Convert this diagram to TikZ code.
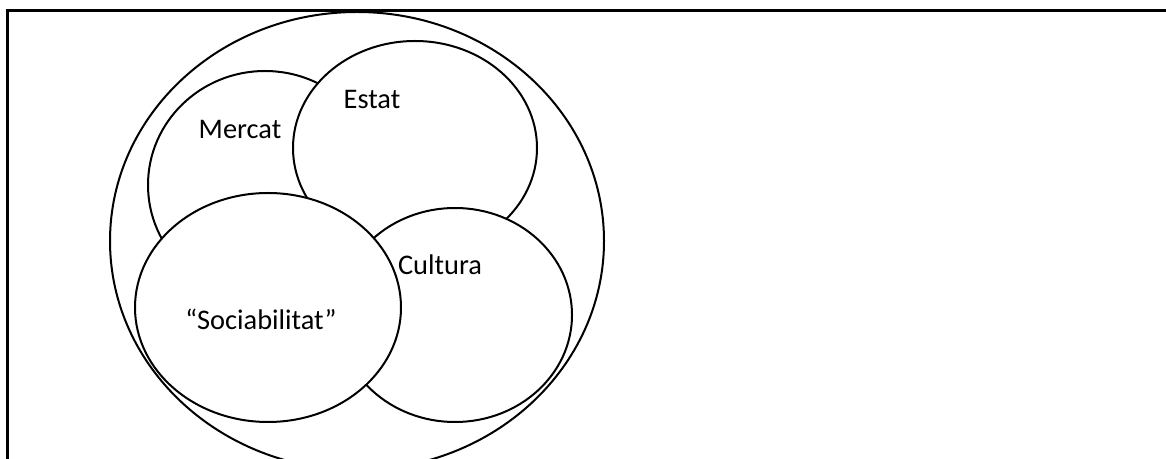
\documentclass[tikz,border=0pt]{standalone}
\usepackage{fontspec}
\setmainfont{Carlito}
\usetikzlibrary{shapes.geometric}
\begin{document}
\begin{tikzpicture}[x=0.5pt,y=-0.5pt,
  blob/.style={ellipse,draw=black,fill=white,line width=1pt,inner sep=0pt},
  lbl/.style={anchor=base,inner sep=0pt,font=\fontsize{14.2}{17}\selectfont}]
\useasboundingbox (0,0) rectangle (1166,459);
\clip (0,0) rectangle (1166,459);
\node[draw=black,line width=1.5pt,anchor=north west,inner sep=0pt,minimum width=600pt,minimum height=260pt] (frame) at (6,9) {};
\node[ellipse,draw=black,line width=1pt,inner sep=0pt,minimum width=247pt,minimum height=229pt] (outer) at (357,241) {};
\node[blob,minimum width=117pt,minimum height=114pt] (mercat) at (265,185) {};
\node[blob,minimum width=122pt,minimum height=107pt] (estat) at (415,148) {};
\node[blob,minimum width=117pt,minimum height=107pt] (cultura) at (455,315) {};
\node[blob,minimum width=133pt,minimum height=114.5pt] (soc) at (268,307.5) {};
\node[lbl] (tm) at (240,139) {Mercat};
\node[lbl] (te) at (372,109) {Estat};
\node[lbl] (tc) at (440,275) {Cultura};
\node[lbl] (ts) at (261,330) {“Sociabilitat”};
\end{tikzpicture}
\end{document}
